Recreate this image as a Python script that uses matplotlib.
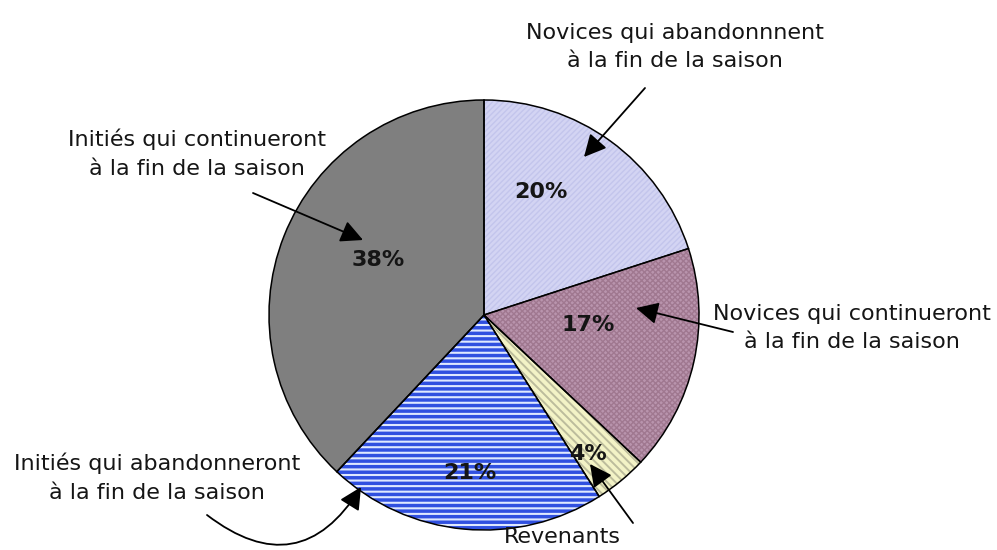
"""
Pie chart: saison, répartition des licenciés
"""
import matplotlib
matplotlib.use('Agg')
import matplotlib.pyplot as plt
from matplotlib.patches import Wedge

# Data
categories = [
    "Novices qui abandonnnent\nà la fin de la saison",
    "Novices qui continueront\nà la fin de la saison",
    "Revenants",
    "Initiés qui abandonneront\nà la fin de la saison",
    "Initiés qui continueront\nà la fin de la saison",
]
values = [20, 17, 4, 21, 38]

colors = ['#d3d4f3', '#b994ad', '#f3f3c6', '#3050e0', '#7f7f7f']
hatches = ['//////', 'xxxxxx', '\\\\\\\\', '---', None]
hatch_colors = ['#c3c5ec', '#a07890', '#bcbc9c', '#dfe8ff', None]
hatch_widths = [1.0, 1.0, 1.4, 1.5, 1.0]

# Layout (pixel coords, y down)
W, H = 997, 550
center = (484, 315)
radius = 215
pct_pos = [(541, 192), (588, 325), (588, 454), (470, 473), (378, 260)]
label_pos = [(675, 47), (852, 328), (562, 537), (157, 478), (197, 154)]
arrow_tail = [(645, 88), (733, 332), (633, 523), (207, 515), (253, 193)]
arrow_tip = [(584, 157), (636, 308), (590, 464), (361, 487), (363, 240)]
arrow_rad = [0, 0, 0, 0.55, 0]

plt.rcParams['font.family'] = ['DejaVu Sans']

fig = plt.figure(figsize=(W / 100, H / 100), dpi=100)
ax = fig.add_axes([0, 0, 1, 1])

wedges, _ = ax.pie(values, colors=colors, startangle=-90, counterclock=True,
                   center=center, radius=radius,
                   wedgeprops=dict(linewidth=0))

# hatching overlays and outlines
for w, h, hc, hw in zip(wedges, hatches, hatch_colors, hatch_widths):
    if h:
        with plt.rc_context({'hatch.linewidth': hw}):
            ax.add_patch(Wedge(w.center, w.r, w.theta1, w.theta2, facecolor='none',
                               edgecolor=hc, hatch=h, linewidth=0))
    ax.add_patch(Wedge(w.center, w.r, w.theta1, w.theta2, facecolor='none',
                       edgecolor='black', linewidth=1.1))

for v, (x, y) in zip(values, pct_pos):
    ax.text(x, y, f"{v}%", ha='center', va='center', fontsize=16,
            fontweight='bold', color='#151515')

for lab, (x, y) in zip(categories, label_pos):
    ax.text(x, y, lab, ha='center', va='center', fontsize=16, color='#151515',
            linespacing=1.55)

for tail, tip, rad in zip(arrow_tail, arrow_tip, arrow_rad):
    ax.annotate('', xy=tip, xytext=tail,
                arrowprops=dict(arrowstyle='-|>,head_length=0.9,head_width=0.45',
                                mutation_scale=15, color='black', lw=1.3,
                                shrinkA=0, shrinkB=0,
                                connectionstyle=f'arc3,rad={rad}'))

ax.set_xlim(0, W)
ax.set_ylim(H, 0)
ax.set_aspect('equal')
ax.axis('off')

plt.savefig('out.png', dpi=100, facecolor='white')
plt.close()
